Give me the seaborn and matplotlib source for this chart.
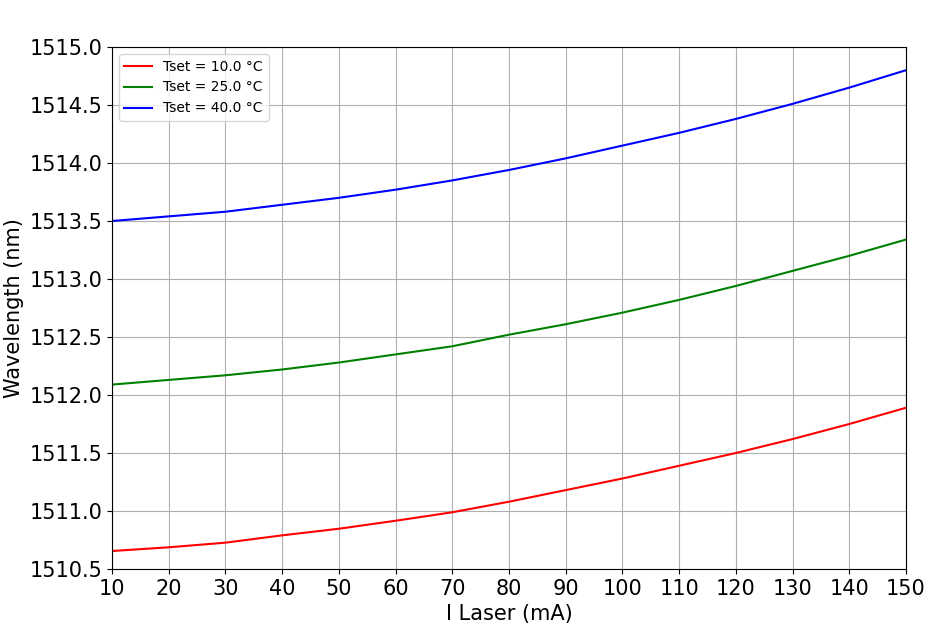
import numpy as np
import pandas as pd
import matplotlib
matplotlib.use("Agg")
import matplotlib.pyplot as plt
import seaborn as sns

# laser current (mA)
current = [10, 20, 30, 40, 50, 60, 70, 80, 90, 100, 110, 120, 130, 140, 150]

# wavelength (nm) per set temperature
wl_10 = [1510.655, 1510.687, 1510.727, 1510.79, 1510.847, 1510.916, 1510.989,
         1511.08, 1511.18, 1511.28, 1511.39, 1511.50, 1511.62, 1511.75, 1511.89]
wl_25 = [1512.09, 1512.13, 1512.17, 1512.22, 1512.28, 1512.35, 1512.42,
         1512.52, 1512.61, 1512.71, 1512.82, 1512.94, 1513.07, 1513.20, 1513.34]
wl_40 = [1513.50, 1513.54, 1513.58, 1513.64, 1513.70, 1513.77, 1513.85,
         1513.94, 1514.04, 1514.15, 1514.26, 1514.38, 1514.51, 1514.65, 1514.80]

labels = ["Tset = 10.0 °C", "Tset = 25.0 °C", "Tset = 40.0 °C"]
colors = ["red", "green", "blue"]

df = pd.concat([
    pd.DataFrame({"I": current, "wl": w, "T": lab})
    for w, lab in zip([wl_10, wl_25, wl_40], labels)
])

fig = plt.figure(figsize=(9.33, 6.27), dpi=100)
ax = fig.add_axes([0.12, 0.0925, 0.851, 0.8325])

sns.lineplot(data=df, x="I", y="wl", hue="T", palette=colors, ax=ax, linewidth=1.5)

ax.set_xlim(10, 150)
ax.set_ylim(1510.5, 1515.0)
ax.set_xticks(np.arange(10, 151, 10))
ax.set_yticks(np.arange(1510.5, 1515.01, 0.5))
ax.yaxis.set_major_formatter(matplotlib.ticker.FormatStrFormatter("%.1f"))
ax.tick_params(labelsize=15)
ax.grid(True, color="#b0b0b0", linewidth=0.8)
ax.set_axisbelow(True)
ax.set_xlabel("I Laser (mA)", fontsize=15)
ax.set_ylabel("Wavelength (nm)", fontsize=15)
ax.legend(loc="upper left", fontsize=10)

fig.savefig("out.png", dpi=100)
